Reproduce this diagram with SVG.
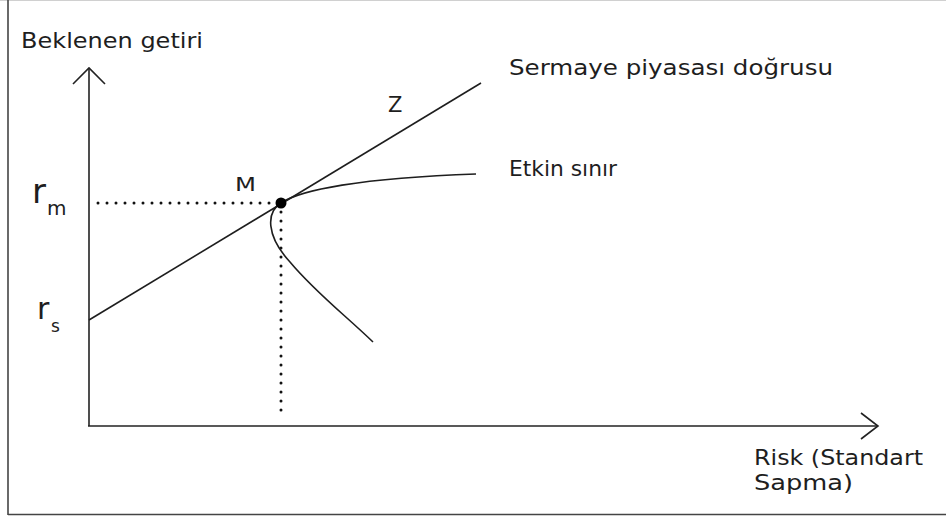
<svg xmlns="http://www.w3.org/2000/svg" width="946" height="518" viewBox="0 0 946 518">
<style>
text{font-family:"DejaVu Sans","Liberation Sans",sans-serif;fill:#1e1e1e}
.ax{stroke:#222;stroke-width:1.6;fill:none}
.cv{stroke:#1e1e1e;stroke-width:1.6;fill:none}
.dot{stroke:#111;stroke-width:3;stroke-linecap:round;stroke-dasharray:0 9;fill:none}
</style>
<rect x="0" y="0" width="946" height="518" fill="#fff"/>
<g id="frame">
<line x1="0" y1="0.5" x2="946" y2="0.5" stroke="#d0d0d0" stroke-width="1"/>
<line x1="8" y1="0" x2="8" y2="515" stroke="#444" stroke-width="1.6"/>
<line x1="8" y1="514.5" x2="946" y2="514.5" stroke="#444" stroke-width="1.6"/>
</g>
<g id="axes">
<line class="ax" x1="89" y1="426" x2="89" y2="68"/>
<polyline class="ax" points="73,84 89,68 105,84"/>
<line class="ax" x1="88" y1="426" x2="878" y2="426"/>
<polyline class="ax" points="861,413 878,426 861,439"/>
</g>
<g id="connectors">
<line class="dot" x1="98" y1="203" x2="275" y2="203"/>
<line class="dot" x1="281" y1="212" x2="281" y2="419"/>
<line id="cml" class="cv" x1="89" y1="320" x2="481" y2="83"/>
<path id="frontier" class="cv" d="M281 203 C300 190 360 178 476 174 M281 203 C266 212 266 236 290 262 C315 292 345 315 373 342"/>
</g>
<g id="M-point"><circle cx="281" cy="203" r="5.5" fill="#000"/><text x="235" y="191" font-size="19" textLength="21" lengthAdjust="spacingAndGlyphs">M</text></g>
<g id="labels">
<text x="21" y="48" font-size="21" textLength="182" lengthAdjust="spacingAndGlyphs">Beklenen getiri</text>
<text x="509" y="75" font-size="21" textLength="324" lengthAdjust="spacingAndGlyphs">Sermaye piyasası doğrusu</text>
<text x="509" y="176" font-size="21" textLength="108" lengthAdjust="spacingAndGlyphs">Etkin sınır</text>
<text x="388" y="112" font-size="21">Z</text>
<text x="32" y="203" font-size="34">r</text>
<text x="47" y="215" font-size="20">m</text>
<text x="37" y="319" font-size="30">r</text>
<text x="51" y="332" font-size="17">s</text>
<text x="754" y="465" font-size="21" textLength="169" lengthAdjust="spacingAndGlyphs">Risk (Standart</text>
<text x="754" y="490" font-size="21" textLength="99" lengthAdjust="spacingAndGlyphs">Sapma)</text>
</g>
</svg>
